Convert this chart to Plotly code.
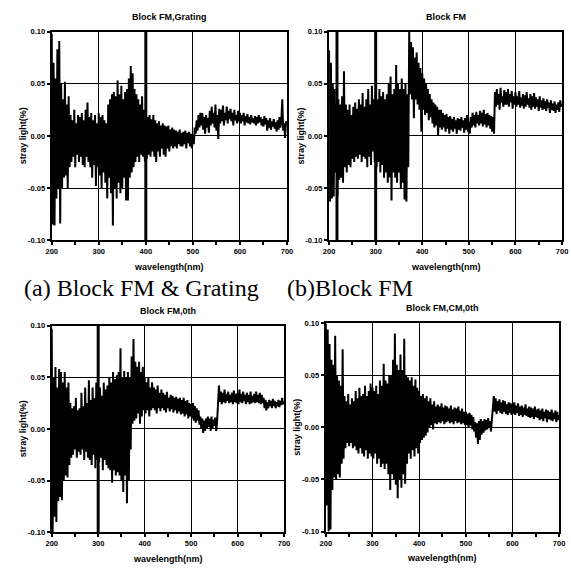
import plotly.graph_objects as go

# Sampling grid (nm)
wavelength = list(range(200, 701, 2))

# Stray light (%) for each configuration, 2 nm steps, one row per 20 nm
block_fm_grating = [
    0.098, -0.085, 0.07, -0.086, 0.055, -0.06, 0.083, -0.05, 0.091, -0.084,
    0.05, -0.05, 0.035, -0.04, 0.052, -0.038, 0.03, -0.05, 0.038, -0.03,
    0.02, -0.025, 0.015, -0.02, 0.025, -0.03, 0.012, -0.018, 0.02, -0.025,
    0.018, -0.02, 0.022, -0.028, 0.015, -0.03, 0.025, -0.02, 0.032, -0.025,
    0.018, -0.03, 0.022, -0.04, 0.015, -0.028, 0.02, -0.048, 0.012, -0.03,
    0.022, -0.038, 0.018, -0.05, 0.02, -0.035, 0.015, -0.045, 0.012, -0.06,
    0.03, -0.04, 0.035, -0.055, 0.04, -0.086, 0.042, -0.05, 0.038, -0.06,
    0.053, -0.045, 0.04, -0.055, 0.048, -0.05, 0.035, -0.04, 0.042, -0.062,
    0.045, -0.062, 0.055, -0.04, 0.067, -0.035, 0.06, -0.03, 0.045, -0.025,
    0.04, -0.02, 0.035, -0.025, 0.03, -0.018, 0.038, -0.02, 0.025, -0.025,
    0.022, -0.022, 0.018, -0.018, 0.02, -0.02, 0.016, -0.015, 0.02, -0.02,
    0.015, -0.025, 0.012, -0.015, 0.014, -0.02, 0.01, -0.012, 0.012, -0.018,
    0.01, -0.02, 0.009, -0.012, 0.01, -0.015, 0.006, -0.01, 0.008, -0.012,
    0.006, -0.01, 0.005, -0.012, 0.004, -0.008, 0.006, -0.01, 0.003, -0.01,
    0.004, -0.008, 0.005, -0.012, 0.003, -0.007, 0.004, -0.01, 0.002, -0.012,
    0.0, -0.008, 0.008, 0.002, 0.015, 0.005, 0.02, 0.008, 0.022, 0.01,
    0.022, 0.006, 0.018, 0.002, 0.02, 0.008, 0.017, 0.003, 0.024, 0.01,
    0.028, 0.012, 0.022, 0.008, 0.03, 0.005, 0.02, -0.003, 0.026, 0.012,
    0.025, 0.014, 0.029, 0.01, 0.022, 0.015, 0.028, 0.012, 0.024, 0.016,
    0.026, 0.014, 0.022, 0.01, 0.025, 0.015, 0.02, 0.012, 0.024, 0.014,
    0.022, 0.012, 0.02, 0.014, 0.022, 0.01, 0.019, 0.013, 0.021, 0.012,
    0.018, 0.011, 0.02, 0.013, 0.017, 0.012, 0.019, 0.01, 0.018, 0.012,
    0.02, 0.013, 0.018, 0.01, 0.016, 0.009, 0.019, 0.011, 0.017, 0.005,
    0.015, 0.008, 0.017, 0.006, 0.014, 0.009, 0.016, 0.007, 0.013, 0.004,
    0.015, 0.006, 0.018, 0.008, 0.014, 0.035, 0.005, 0.012, -0.002, 0.014,
    0.01,
]

block_fm = [
    0.082, -0.063, 0.07, -0.06, 0.05, -0.058, 0.045, -0.035, 0.03, -0.058,
    0.035, -0.042, 0.03, -0.04, 0.038, -0.045, 0.062, -0.03, 0.03, -0.035,
    0.025, -0.028, 0.03, -0.03, 0.02, -0.022, 0.028, -0.025, 0.032, -0.02,
    0.026, -0.022, 0.035, -0.018, 0.03, -0.025, 0.041, -0.02, 0.028, -0.022,
    0.035, -0.03, 0.045, -0.02, 0.03, -0.028, 0.048, -0.015, 0.035, -0.025,
    0.04, -0.03, 0.035, -0.025, 0.045, -0.035, 0.038, -0.028, 0.042, -0.04,
    0.035, -0.035, 0.04, -0.045, 0.05, -0.04, 0.057, -0.062, 0.04, -0.035,
    0.045, -0.04, 0.068, -0.045, 0.05, -0.035, 0.045, -0.05, 0.055, -0.045,
    0.045, -0.061, 0.05, -0.063, 0.04, -0.03, 0.1, 0.04, 0.09, 0.035,
    0.085, 0.017, 0.075, 0.035, 0.08, 0.03, 0.07, 0.025, 0.065, 0.004,
    0.06, 0.025, 0.055, 0.02, 0.05, 0.022, 0.045, 0.015, 0.04, 0.018,
    0.035, 0.012, 0.032, 0.008, 0.03, 0.01, 0.028, 0.001, 0.025, 0.008,
    0.025, 0.006, 0.022, 0.008, 0.02, 0.004, 0.021, 0.007, 0.018, 0.002,
    0.019, 0.006, 0.016, 0.004, 0.018, 0.007, 0.015, 0.002, 0.017, 0.006,
    0.016, 0.005, 0.018, 0.008, 0.015, 0.003, 0.017, 0.006, 0.02, 0.004,
    0.014, 0.002, 0.018, 0.008, 0.022, 0.01, 0.02, 0.008, 0.023, 0.012,
    0.02, 0.01, 0.024, 0.012, 0.022, 0.009, 0.025, 0.011, 0.021, 0.008,
    0.022, 0.01, 0.02, 0.007, 0.019, 0.004, 0.018, 0.002, 0.042, 0.028,
    0.045, 0.03, 0.04, 0.025, 0.046, 0.032, 0.038, 0.028, 0.044, 0.03,
    0.042, 0.03, 0.045, 0.028, 0.04, 0.032, 0.043, 0.026, 0.038, 0.03,
    0.042, 0.028, 0.038, 0.03, 0.043, 0.027, 0.037, 0.029, 0.04, 0.026,
    0.039, 0.028, 0.042, 0.03, 0.036, 0.027, 0.04, 0.025, 0.038, 0.028,
    0.041, 0.026, 0.037, 0.028, 0.035, 0.024, 0.038, 0.027, 0.034, 0.025,
    0.036, 0.026, 0.033, 0.024, 0.035, 0.027, 0.032, 0.022, 0.034, 0.025,
    0.031, 0.024, 0.033, 0.022, 0.03, 0.025, 0.032, 0.023, 0.034, 0.028,
    0.03,
]

block_fm_0th = [
    0.097, -0.1, 0.05, -0.085, 0.06, -0.09, 0.04, -0.07, 0.058, -0.066,
    0.055, -0.069, 0.045, -0.05, 0.055, -0.045, 0.04, -0.047, 0.045, -0.035,
    0.025, -0.028, 0.02, -0.025, 0.022, -0.02, 0.03, -0.028, 0.018, -0.022,
    0.02, -0.025, 0.035, -0.02, 0.022, -0.03, 0.04, -0.022, 0.025, -0.028,
    0.047, -0.03, 0.028, -0.035, 0.04, -0.025, 0.03, -0.038, 0.045, -0.03,
    0.035, -0.032, 0.04, -0.028, 0.032, -0.04, 0.045, -0.03, 0.038, -0.035,
    0.042, -0.038, 0.05, -0.04, 0.045, -0.052, 0.055, -0.04, 0.048, -0.045,
    0.052, -0.042, 0.055, -0.045, 0.078, -0.05, 0.05, -0.061, 0.056, -0.045,
    0.05, -0.072, 0.055, -0.05, 0.05, -0.02, 0.07, 0.005, 0.087, 0.008,
    0.065, 0.01, 0.06, 0.015, 0.065, 0.005, 0.055, 0.012, 0.06, 0.018,
    0.05, 0.015, 0.045, 0.018, 0.05, 0.012, 0.04, 0.018, 0.045, 0.02,
    0.04, 0.018, 0.038, 0.015, 0.042, 0.02, 0.035, 0.017, 0.038, 0.02,
    0.035, 0.018, 0.033, 0.016, 0.036, 0.02, 0.03, 0.017, 0.033, 0.019,
    0.032, 0.016, 0.03, 0.018, 0.031, 0.015, 0.029, 0.017, 0.03, 0.014,
    0.028, 0.015, 0.03, 0.012, 0.027, 0.014, 0.028, 0.01, 0.025, 0.012,
    0.024, 0.01, 0.025, 0.008, 0.022, 0.006, 0.02, 0.008, 0.018, 0.004,
    0.012, 0.0, 0.01, -0.004, 0.008, -0.002, 0.01, 0.0, 0.012, 0.002,
    0.01, -0.002, 0.012, 0.0, 0.009, 0.003, 0.011, -0.002, 0.008, 0.035,
    0.042, 0.026, 0.036, 0.024, 0.035, 0.026, 0.038, 0.025, 0.034, 0.027,
    0.036, 0.025, 0.033, 0.026, 0.035, 0.024, 0.037, 0.026, 0.034, 0.025,
    0.035, 0.024, 0.038, 0.026, 0.034, 0.025, 0.036, 0.027, 0.033, 0.024,
    0.035, 0.026, 0.033, 0.024, 0.036, 0.025, 0.032, 0.026, 0.034, 0.025,
    0.036, 0.026, 0.033, 0.025, 0.035, 0.024, 0.033, 0.025, 0.03, 0.02,
    0.028, 0.018, 0.026, 0.02, 0.028, 0.022, 0.027, 0.02, 0.029, 0.022,
    0.027, 0.02, 0.026, 0.022, 0.028, 0.021, 0.027, 0.023, 0.03, 0.024,
    0.026,
]

block_fm_cm_0th = [
    0.1, -0.075, 0.094, -0.1, 0.08, -0.098, 0.065, -0.06, 0.06, -0.048,
    0.088, -0.05, 0.05, -0.045, 0.045, -0.048, 0.04, -0.035, 0.075, -0.03,
    0.03, -0.02, 0.025, -0.015, 0.032, -0.018, 0.022, -0.015, 0.028, -0.02,
    0.025, -0.018, 0.035, -0.022, 0.028, -0.025, 0.038, -0.02, 0.03, -0.025,
    0.032, -0.028, 0.04, -0.022, 0.03, -0.03, 0.035, -0.025, 0.042, -0.028,
    0.038, -0.03, 0.035, -0.025, 0.04, -0.035, 0.032, -0.03, 0.045, -0.038,
    0.04, -0.035, 0.061, -0.04, 0.045, -0.035, 0.042, -0.045, 0.05, -0.06,
    0.05, -0.045, 0.065, -0.05, 0.09, -0.055, 0.06, -0.068, 0.055, -0.05,
    0.07, -0.058, 0.055, -0.045, 0.085, -0.054, 0.05, -0.035, 0.048, -0.025,
    0.045, -0.03, 0.048, -0.022, 0.04, -0.028, 0.046, -0.02, 0.038, -0.025,
    0.035, -0.015, 0.03, -0.012, 0.032, -0.01, 0.028, -0.008, 0.03, -0.005,
    0.025, 0.0, 0.028, 0.002, 0.022, -0.002, 0.025, 0.004, 0.02, 0.003,
    0.022, 0.005, 0.02, 0.004, 0.023, 0.006, 0.019, 0.003, 0.021, 0.005,
    0.02, 0.006, 0.018, 0.004, 0.021, 0.005, 0.017, 0.003, 0.019, 0.006,
    0.018, 0.004, 0.02, 0.005, 0.016, 0.003, 0.018, 0.004, 0.015, 0.002,
    0.015, 0.002, 0.013, 0.0, 0.014, 0.002, 0.012, -0.002, 0.01, -0.004,
    0.005, -0.01, 0.004, -0.016, 0.006, -0.012, 0.008, -0.007, 0.006, -0.005,
    0.008, -0.003, 0.007, -0.002, 0.009, 0.0, 0.006, -0.004, 0.008, 0.018,
    0.03, 0.015, 0.028, 0.013, 0.025, 0.016, 0.027, 0.014, 0.024, 0.013,
    0.026, 0.015, 0.025, 0.013, 0.022, 0.012, 0.024, 0.014, 0.023, 0.012,
    0.022, 0.013, 0.024, 0.012, 0.021, 0.014, 0.023, 0.011, 0.02, 0.012,
    0.021, 0.01, 0.019, 0.012, 0.022, 0.011, 0.018, 0.01, 0.02, 0.009,
    0.019, 0.01, 0.018, 0.008, 0.02, 0.01, 0.017, 0.009, 0.018, 0.007,
    0.016, 0.008, 0.018, 0.006, 0.015, 0.009, 0.017, 0.005, 0.016, 0.008,
    0.015, 0.007, 0.017, 0.006, 0.014, 0.008, 0.016, 0.005, 0.015, 0.007,
    0.012,
]

x_ticks = [200, 300, 400, 500, 600, 700]
y_ticks = [-0.10, -0.05, 0.00, 0.05, 0.10]
y_tick_text = ["-0.10", "-0.05", "0.00", "0.05", "0.10"]

titles = ["Block FM,Grating", "Block FM", "Block FM,0th", "Block FM,CM,0th"]
captions = ["(a) Block FM & Grating", "(b)Block FM"]

W = H = 571


def px(x):
    return x / W


def py(y):
    return 1 - y / H


# plot areas in pixels: left, right, top, bottom
boxes = [
    (46.7, 287.0, 28.0, 240.0),
    (330.0, 568.0, 28.0, 240.0),
    (46.7, 284.0, 326.7, 536.7),
    (326.7, 565.0, 324.3, 536.0),
]
series = [block_fm_grating, block_fm, block_fm_0th, block_fm_cm_0th]

# heavier vertical rules seen in each panel (wavelength positions)
heavy_lines = [[400], [217, 300], [300], []]

narrow = "Liberation Sans Narrow, Arial Narrow, Liberation Sans, Arial"
small_font = dict(family=narrow, size=7.5, color="black", weight="bold")
label_font = dict(family=narrow, size=9, color="black", weight="bold")

fig = go.Figure()
layout = dict(
    width=W, height=H, margin=dict(l=0, r=0, t=0, b=0),
    paper_bgcolor="white", plot_bgcolor="white", showlegend=False,
    annotations=[], shapes=[],
)

for i, ((l, r, t, b), vals) in enumerate(zip(boxes, series)):
    n = "" if i == 0 else str(i + 1)
    fig.add_trace(go.Scatter(
        x=wavelength, y=vals, mode="lines",
        line=dict(color="black", width=2),
        xaxis="x" + n, yaxis="y" + n, hoverinfo="skip",
    ))
    layout["xaxis" + n] = dict(
        domain=[px(l), px(r)], anchor="y" + n, range=[200, 700],
        tickvals=x_ticks, ticktext=[str(v) for v in x_ticks],
        showgrid=True, gridcolor="black", gridwidth=1.3,
        showline=True, linecolor="black", linewidth=2.2, mirror=True,
        ticks="outside", ticklen=3, tickwidth=1.5, tickcolor="black",
        minor=dict(dtick=50, ticks="outside", ticklen=3, tickwidth=1.5,
                   tickcolor="black", showgrid=False),
        zeroline=False, fixedrange=True, tickfont=small_font,
    )
    layout["yaxis" + n] = dict(
        domain=[py(b), py(t)], anchor="x" + n, range=[-0.1, 0.1],
        tickvals=y_ticks, ticktext=y_tick_text,
        showgrid=True, gridcolor="black", gridwidth=1.3,
        showline=True, linecolor="black", linewidth=2.2, mirror=True,
        ticks="outside", ticklen=3, tickwidth=1.5, tickcolor="black",
        zeroline=False, fixedrange=True, tickfont=small_font,
    )
    for xv in heavy_lines[i]:
        layout["shapes"].append(dict(
            type="line", xref="x" + n, yref="y" + n + " domain",
            x0=xv, x1=xv, y0=0, y1=1, line=dict(color="black", width=3),
        ))
    cx = (l + r) / 2
    layout["annotations"].append(dict(
        text=titles[i], x=px(cx), y=py(t - 15), xref="paper", yref="paper",
        showarrow=False, xanchor="center", yanchor="middle", font=label_font,
    ))
    layout["annotations"].append(dict(
        text="wavelength(nm)", x=px(cx), y=py(b + 27), xref="paper",
        yref="paper", showarrow=False, xanchor="center", yanchor="middle",
        font=label_font,
    ))
    layout["annotations"].append(dict(
        text="stray light(%)", x=px(l - 29), y=py((t + b) / 2), xref="paper",
        yref="paper", showarrow=False, textangle=-90,
        xanchor="center", yanchor="middle", font=label_font,
    ))

for text, x0 in zip(captions, [16, 285]):
    layout["annotations"].append(dict(
        text=text, x=px(x0), y=py(289), xref="paper", yref="paper",
        showarrow=False, xanchor="left", yanchor="middle",
        font=dict(family="Liberation Serif, Times New Roman, serif", size=24,
                  color="black"),
    ))

fig.update_layout(**layout)
fig.write_html("out.html")
